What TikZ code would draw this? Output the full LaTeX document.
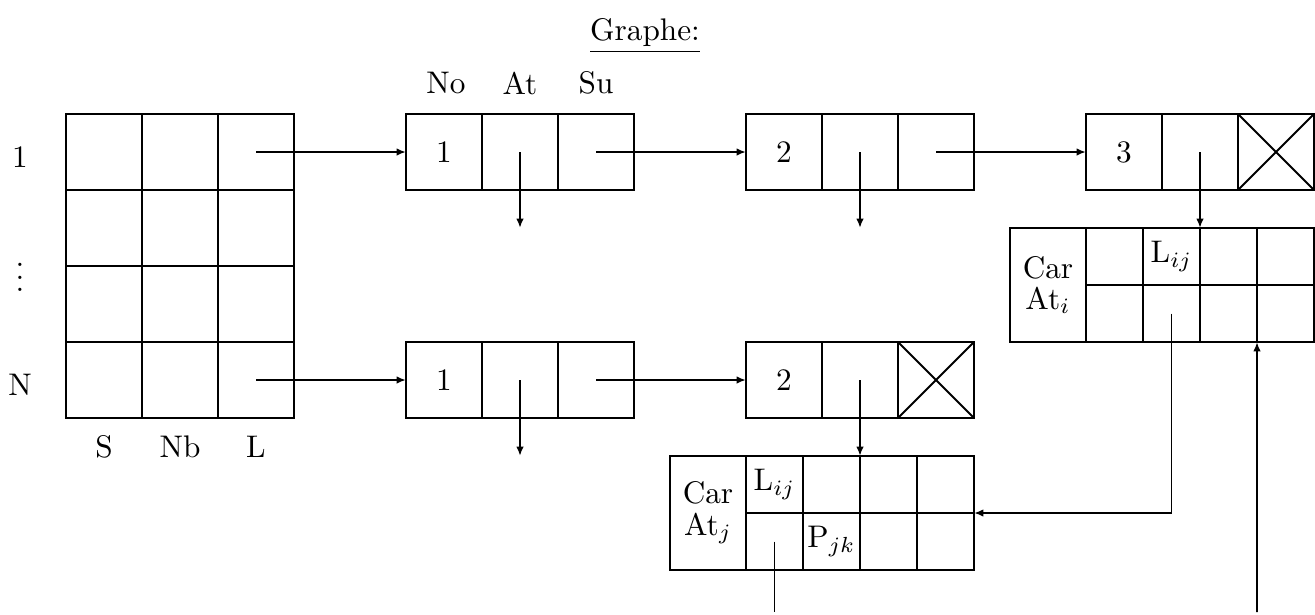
\documentclass[tikz,border=0pt]{standalone}
\usepackage{amsmath,amssymb}
\usepackage{tikz}
\usetikzlibrary{arrows.meta}

\tikzset{
  cell/.style={draw, inner sep=0pt, outer sep=0pt,
    minimum width=24.32pt, minimum height=24.32pt},
  small/.style={draw, inner sep=0pt, outer sep=0pt, minimum size=18.24pt},
  carcell/.style={draw, inner sep=0pt, outer sep=0pt, align=center,
    minimum width=24.32pt, minimum height=36.48pt},
}

\begin{document}
\begin{tikzpicture}[x=0.32pt, y=-0.32pt, >={Latex[length=3pt,width=2.4pt]}, semithick]
    \useasboundingbox (0,0) rectangle (1315,615);
    \node (title) at (645,36) {\underline{Graphe:}};
    % table of vertices
    \foreach \r in {1,...,4}
      \foreach \c in {1,2,3}
        \node[cell] (t\r\c) at ({104+76*(\c-1)},{152+76*(\r-1)}) {};
    \node (lab1) at (20,157) {1};
    \node (labdots) at (20,268) {$\vdots$};
    \node (labN) at (20,385) {N};
    \node (labS) at (104,447) {S};
    \node (labNb) at (180,447) {Nb};
    \node (labL) at (256,447) {L};
    % list records
    \node (hNo) at (446,83) {No};
    \node (hAt) at (520,83) {At};
    \node (hSu) at (596,83) {Su};
    \foreach \n/\x/\y/\v in {a1/444/152/1, a2/784/152/2, a3/1124/152/3,
                             b1/444/380/1, b2/784/380/2} {
      \node[cell] (\n-no) at (\x,\y) {\v};
      \node[cell] (\n-at) at (\x+76,\y) {};
      \node[cell] (\n-su) at (\x+152,\y) {};
    }
    \draw (a3-su.north west) -- (a3-su.south east)
          (a3-su.south west) -- (a3-su.north east);
    \draw (b2-su.north west) -- (b2-su.south east)
          (b2-su.south west) -- (b2-su.north east);
    % attribute blocks
    \node[carcell] (ci) at (1048,285) {Car\\[-2pt]At$_i$};
    \node[carcell] (cj) at (708,513) {Car\\[-2pt]At$_j$};
    \foreach \r in {1,2}
      \foreach \c in {1,...,4} {
        \node[small] (ci\r\c) at ({1057.5+57*\c},{199.5+57*\r}) {};
        \node[small] (cj\r\c) at ({717.5+57*\c},{427.5+57*\r}) {};
      }
    \node (lij-i) at (ci12) {L$_{ij}$};
    \node (lij-j) at (cj11) {L$_{ij}$};
    \node (pjk) at (cj22) {P$_{jk}$};
    % pointers
    \coordinate (a1-down) at (520,228);
    \coordinate (a2-down) at (860,228);
    \coordinate (b1-down) at (520,456);
    \coordinate (ci-in) at (1257,612);
    \coordinate (cj-out) at (774.5,612);
    \draw[->] (t13.center) -- (a1-no.west);
    \draw[->] (t43.center) -- (b1-no.west);
    \draw[->] (a1-su.center) -- (a2-no.west);
    \draw[->] (a2-su.center) -- (a3-no.west);
    \draw[->] (b1-su.center) -- (b2-no.west);
    \draw[->] (a1-at.center) -- (a1-down);
    \draw[->] (a2-at.center) -- (a2-down);
    \draw[->] (b1-at.center) -- (b1-down);
    \draw[->] (a3-at.center) -- (ci13.north west);
    \draw[->] (b2-at.center) -- (cj13.north west);
    \draw[->] (ci22.center) |- (cj14.south east);
    \draw[->] (ci-in) -- (ci24.south west);
    \draw (cj21.center) -- (cj-out);
  \end{tikzpicture}
\end{document}
